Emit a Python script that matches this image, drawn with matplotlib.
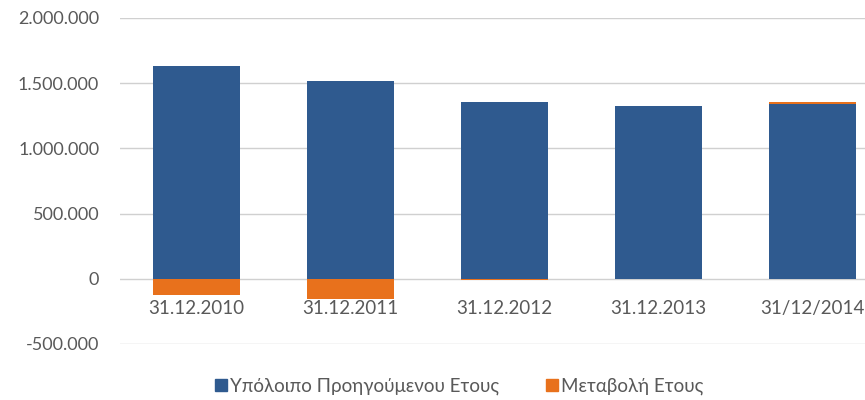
import matplotlib
matplotlib.use("Agg")
import matplotlib.pyplot as plt
from matplotlib.ticker import FuncFormatter, FixedLocator
from matplotlib.patches import Patch

plt.rcParams['font.family'] = ['Lato', 'DejaVu Sans']

categories = ["31.12.2010", "31.12.2011", "31.12.2012", "31.12.2013", "31/12/2014"]
previous_balance = [1630000, 1515000, 1352000, 1322000, 1338000]
yearly_change = [-123000, -152000, -12000, -3000, 16000]
series_names = ["Υπόλοιπο Προηγούμενου Ετους", "Μεταβολή Ετους"]
y_ticks = [-500000, 0, 500000, 1000000, 1500000, 2000000]

blue = "#2f5a8f"
orange = "#e8711c"
text_color = "#595959"

fig = plt.figure(figsize=(8.65, 4.0), dpi=100)
ax = fig.add_axes([120 / 865, 56 / 400, 745 / 865, 326 / 400])

x = list(range(len(categories)))
width = 0.565

ax.bar(x, previous_balance, width, color=blue, zorder=3)
# positive changes stack on top of the balance, negative ones hang below zero
bottoms = [b if c > 0 else 0 for b, c in zip(previous_balance, yearly_change)]
ax.bar(x, yearly_change, width, bottom=bottoms, color=orange, zorder=3)

ax.set_ylim(-500000, 2000000)
ax.set_xlim(-0.494, 4.344)
ax.yaxis.set_major_locator(FixedLocator(y_ticks))
ax.yaxis.set_major_formatter(FuncFormatter(lambda v, p: f"{int(v):,}".replace(",", ".")))
ax.grid(axis="y", color="#d0d0d0", linewidth=1.0, zorder=0)
ax.set_axisbelow(True)

for s in ax.spines.values():
    s.set_visible(False)

ax.tick_params(axis="y", length=0, pad=15, labelsize=13, labelcolor=text_color)
ax.set_xticks([])
for xi, lab in zip(x, categories):
    ax.annotate(lab, xy=(xi, 0), xytext=(0, -30), textcoords="offset pixels",
                ha="center", va="center", fontsize=13.5, color=text_color)

handles = [Patch(color=blue), Patch(color=orange)]
fig.legend(handles, series_names, loc="center", bbox_to_anchor=(0.531, 0.035),
           ncol=2, frameon=False, fontsize=13.5, labelcolor=text_color,
           handlelength=0.64, handleheight=0.64, handletextpad=0.15, columnspacing=2.5,
           borderpad=0.0)

fig.savefig("out.png", dpi=100, facecolor="white")
